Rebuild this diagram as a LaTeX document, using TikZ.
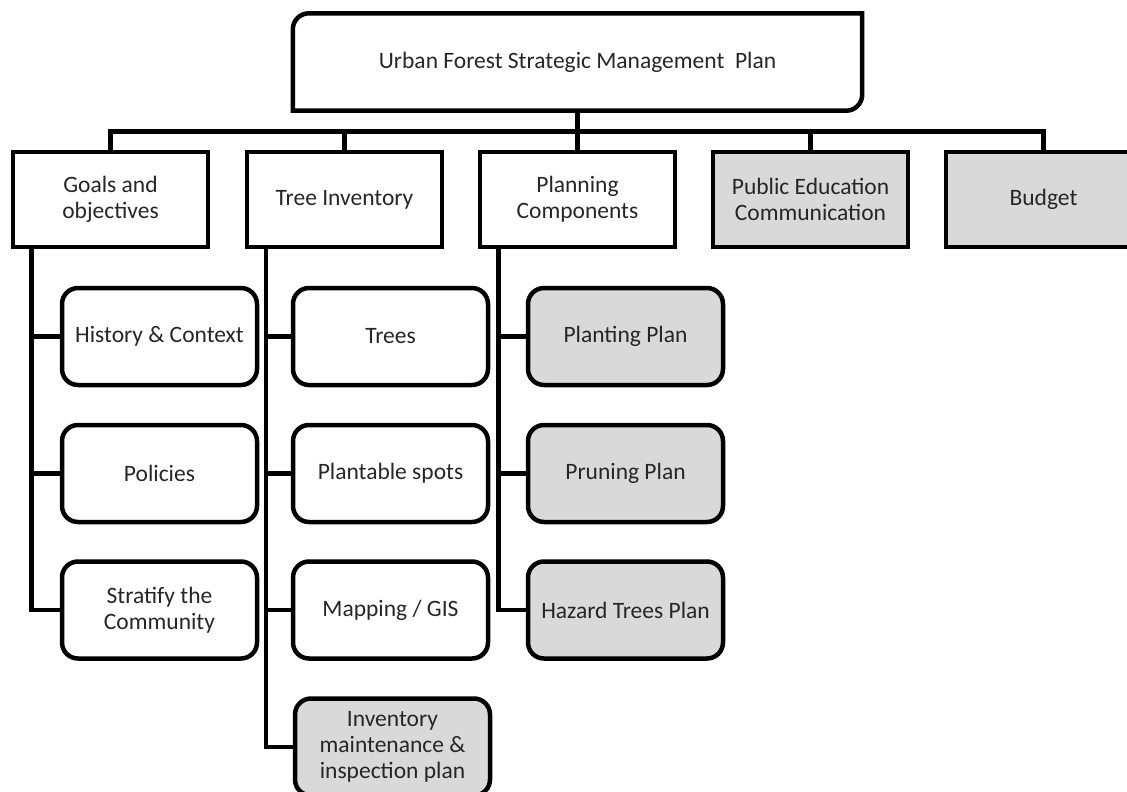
\documentclass[tikz,border=0pt]{standalone}
\usepackage{fontspec}
\setmainfont{Carlito}
\usetikzlibrary{calc}
\definecolor{boxgray}{RGB}{217,217,217}
\definecolor{ink}{RGB}{38,38,38}
\begin{document}
\begin{tikzpicture}[x=1pt,y=-1pt,
  link/.style={line width=4.5pt, line join=miter},
  label/.style={align=center, inner sep=0pt, text=ink, font=\fontsize{23.5}{26}\selectfont},
  box/.style={label, draw, line width=4.5pt, minimum width=195pt, minimum height=95pt},
  sub/.style={box, rounded corners=16pt, minimum height=97pt},
  grey/.style={fill=boxgray}]
\useasboundingbox (0,0) rectangle (1127,792);
\clip (0,0) rectangle (1127,792);

% root: box with two diagonally opposed rounded corners
\node[label, minimum width=569pt, minimum height=97pt] (top) at (577.5,62)
  {Urban Forest Strategic Management\ \ Plan};
\def\rr{16}
\draw[link] (top.south west) -- ($(top.north west)+(0,\rr)$)
  .. controls ($(top.north west)+(0,0.45*\rr)$) and ($(top.north west)+(0.45*\rr,0)$) .. ($(top.north west)+(\rr,0)$)
  -- (top.north east) -- ($(top.south east)+(0,-\rr)$)
  .. controls ($(top.south east)+(0,-0.45*\rr)$) and ($(top.south east)+(-0.45*\rr,0)$) .. ($(top.south east)+(-\rr,0)$)
  -- cycle;

% second level
\node[box] (goals) at (110.5,199.5) {Goals and\\objectives};
\node[box] (tree) at (344.5,199.5) {Tree Inventory};
\node[box] (plan) at (577.5,199.5) {Planning\\Components};
\node[box, grey] (pub) at (810.5,199.5) {Public Education\\Communication};
\node[box, grey] (budget) at (1043.5,199.5) {Budget};

% third level
\node[sub] (hist) at (159.5,336.5) {History \& Context};
\node[sub] (pol) at (159.5,473.5) {Policies};
\node[sub] (strat) at (159.5,610) {Stratify the\\Community};

\node[sub] (trees) at (390.5,336.5) {Trees};
\node[sub] (spots) at (390.5,473.5) {Plantable spots};
\node[sub] (gis) at (390.5,610) {Mapping / GIS};
\node[sub, grey] (inv) at (392.5,747) {Inventory\\maintenance \&\\inspection plan};

\node[sub, grey] (plant) at (625.5,336.5) {Planting Plan};
\node[sub, grey] (prune) at (625.5,473.5) {Pruning Plan};
\node[sub, grey] (hazard) at (625.5,610) {Hazard Trees Plan};

% connectors from the root
\coordinate (bus) at (577.5,131.5);
\draw[link] (top.south) -- (bus);
\foreach \n in {goals,tree,plan,pub,budget}
  \draw[link] (bus) -| (\n.north);

% trunk lines down the left side of each column
\coordinate (gx) at ($(goals.south west)+(20.5,0)$);
\coordinate (tx) at ($(tree.south west)+(21,0)$);
\coordinate (px) at ($(plan.south west)+(20.5,0)$);

\draw[link] (gx) |- (strat.west);
\foreach \n in {hist,pol} \draw[link] (gx |- \n.west) -- (\n.west);

\draw[link] (tx) |- (inv.west);
\foreach \n in {trees,spots,gis} \draw[link] (tx |- \n.west) -- (\n.west);

\draw[link] (px) |- (hazard.west);
\foreach \n in {plant,prune} \draw[link] (px |- \n.west) -- (\n.west);
\end{tikzpicture}
\end{document}
